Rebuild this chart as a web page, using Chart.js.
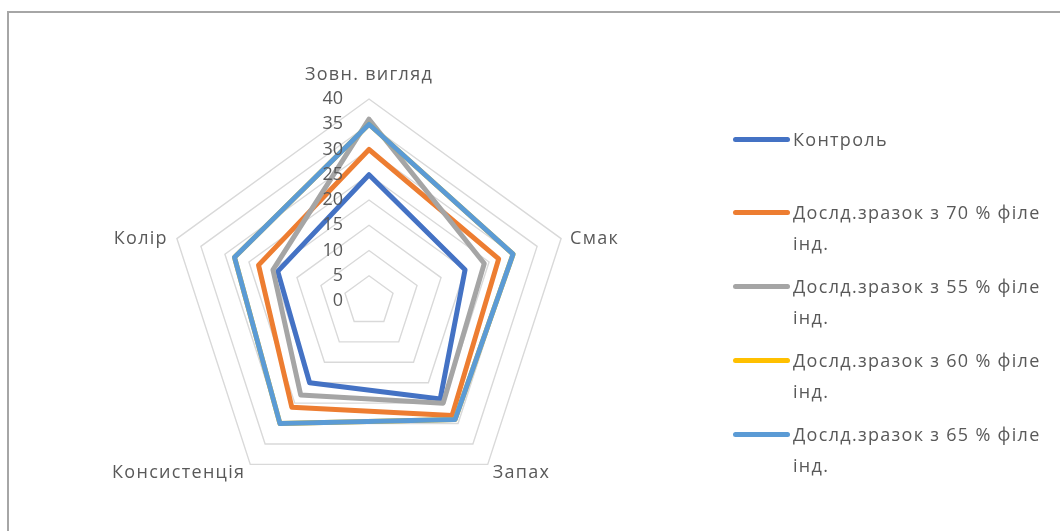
<!DOCTYPE html>
<html lang="uk">
<head>
<meta charset="UTF-8">
<title>Radar</title>
<script src="https://cdn.jsdelivr.net/npm/chart.js@4"></script>
<style>
  html, body { margin: 0; padding: 0; background: #fff; }
  #wrap { position: relative; width: 1060px; height: 531px; overflow: hidden; }
  #frame { position: absolute; left: 7px; top: 11px; width: 1100px; height: 600px;
           border-top: 2px solid #a6a6a6; border-left: 2px solid #a6a6a6; box-sizing: border-box; }
  canvas { position: absolute; left: 0; top: 0; }
  #legend { position: absolute; left: 0; top: 0; width: 1060px; height: 531px; pointer-events: none;
            font-family: "Open Sans", sans-serif; font-size: 18px; letter-spacing: 1.3px; color: #595959; }
  .item { position: absolute; left: 733px; }
  .item .ln { position: absolute; left: 0; width: 57px; height: 5px; border-radius: 3px; }
  .item .tx { position: absolute; left: 60px; width: 267px; line-height: 31px; }
</style>
</head>
<body>
<div id="wrap">
  <div id="frame"></div>
  <canvas id="radar" width="1060" height="531"></canvas>
  <div id="legend"></div>
</div>
<script>
const criteria = ['Зовн. вигляд', 'Смак', 'Запах', 'Консистенція', 'Колір'];
const seriesNames = [
  'Контроль',
  'Дослд.зразок з 70 % філе інд.',
  'Дослд.зразок з 55 % філе інд.',
  'Дослд.зразок з 60 % філе інд.',
  'Дослд.зразок з 65 % філе інд.'
];
const control = [25, 20, 24, 20, 19];
const sample70 = [30, 27, 28, 26, 23];
const sample55 = [36, 24, 25, 23, 20];
const sample60 = [35, 30, 29, 30, 28];
const sample65 = [35, 30, 29, 30, 28];
const colors = ['#4472C4', '#ED7D31', '#A5A5A5', '#FFC000', '#5B9BD5'];
const tickMin = 0, tickMax = 40, tickStep = 5;

const textColor = '#595959';
const labelFont = '18px "Open Sans", sans-serif';

// axis names + tick numbers drawn Excel-style (ticks left of the top spoke)
const excelLabels = {
  id: 'excelLabels',
  afterDraw(chart) {
    const scale = chart.scales.r;
    const ctx = chart.ctx;
    ctx.save();
    ctx.fillStyle = textColor;
    ctx.font = labelFont;
    ctx.textBaseline = 'middle';
    scale.ticks.forEach(t => {
      const y = scale.yCenter - scale.getDistanceFromCenterForValue(t.value);
      ctx.textAlign = 'right';
      ctx.fillText(String(t.value), scale.xCenter - 26, y);
    });
    ctx.letterSpacing = '1.3px';
    chart.data.labels.forEach((lab, i) => {
      const a = scale.getIndexAngle(i);
      const p = scale.getPointPosition(i, scale.drawingArea);
      const s = Math.sin(a), c = Math.cos(a);
      if (Math.abs(s) < 0.1) {
        ctx.textAlign = 'center';
        ctx.fillText(lab, p.x, p.y + (c > 0 ? -24 : 24));
      } else {
        ctx.textAlign = s > 0 ? 'left' : 'right';
        const gx = c < 0 ? 5 : 9;
        ctx.fillText(lab, p.x + (s > 0 ? gx : -gx), p.y + (c < 0 ? 8 : 0));
      }
    });
    ctx.restore();
  }
};

const allSeries = [control, sample70, sample55, sample60, sample65];

const chart = new Chart(document.getElementById('radar'), {
  type: 'radar',
  data: {
    labels: criteria,
    datasets: allSeries.map((d, i) => ({
      label: seriesNames[i],
      data: d,
      borderColor: colors[i],
      backgroundColor: 'transparent',
      borderWidth: 5,
      borderJoinStyle: 'round',
      pointRadius: 0,
      pointHoverRadius: 0,
      fill: false,
      order: allSeries.length - i
    }))
  },
  options: {
    responsive: false,
    animation: false,
    layout: { padding: { left: 167, right: 489, top: 99, bottom: 28 } },
    plugins: { legend: { display: false }, tooltip: { enabled: false } },
    scales: {
      r: {
        min: tickMin,
        max: tickMax,
        ticks: { stepSize: tickStep, display: false },
        grid: { color: '#d9d9d9', lineWidth: 1.4 },
        angleLines: { display: false },
        pointLabels: { display: false }
      }
    }
  },
  plugins: [excelLabels]
});

// legend built from the chart's datasets
const legend = document.getElementById('legend');
chart.data.datasets.forEach((ds, i) => {
  const mid = 139 + 73.75 * i;
  const item = document.createElement('div');
  item.className = 'item';
  item.style.top = (mid - 15.5) + 'px';
  const ln = document.createElement('div');
  ln.className = 'ln';
  ln.style.background = ds.borderColor;
  ln.style.top = '13px';
  const tx = document.createElement('div');
  tx.className = 'tx';
  tx.textContent = ds.label;
  item.appendChild(ln);
  item.appendChild(tx);
  legend.appendChild(item);
});
</script>
</body>
</html>
